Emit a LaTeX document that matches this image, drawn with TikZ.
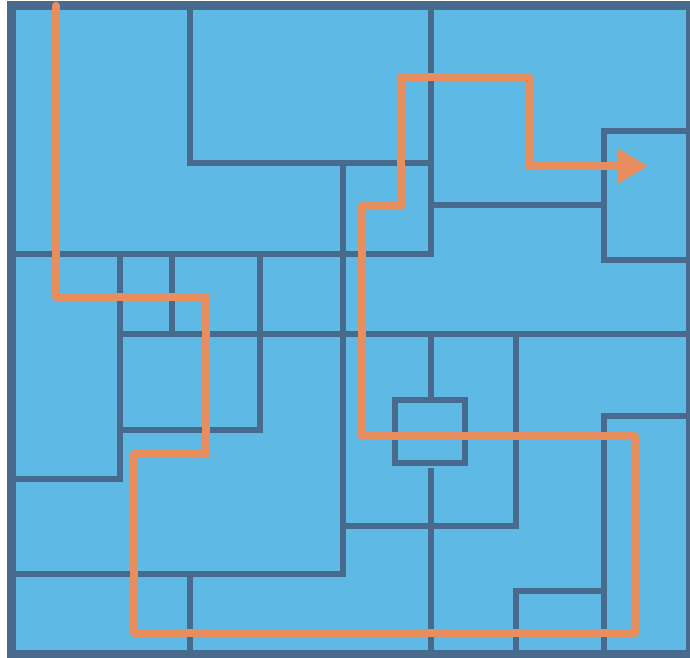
\documentclass[tikz,border=0pt]{standalone}
\usetikzlibrary{arrows.meta}
\definecolor{roomblue}{HTML}{5EB9E5}
\definecolor{wallblue}{HTML}{476A8D}
\definecolor{pathorange}{HTML}{E88D5E}
\tikzset{
  wall/.style={draw=wallblue, line width=6.5pt, line cap=rect},
  frame/.style={draw=wallblue, fill=roomblue, line width=9pt},
  route/.style={draw=pathorange, line width=8.5pt, line cap=round, line join=round,
    -{Triangle[length=31pt,width=34pt]}}
}
\begin{document}
\begin{tikzpicture}[x=1pt,y=-1pt]
\useasboundingbox (0,0) rectangle (690,657);
% outer frame
\draw[frame] (11,5.5) rectangle (690.5,654.5);
% walls
\draw[wall] (190,6) -- (190,163) -- (431,163);
\draw[wall] (431,6) -- (431,254);
\draw[wall] (11,254) -- (431,254);
\draw[wall] (343,163) -- (343,526) -- (516,526) -- (516,334);
\draw[wall] (343,526) -- (343,574) -- (11,574);
\draw[wall] (190,574) -- (190,653);
\draw[wall] (120,254) -- (120,479) -- (11,479);
\draw[wall] (172,254) -- (172,334);
\draw[wall] (120,334) -- (687,334);
\draw[wall] (120,430) -- (260,430) -- (260,254);
\draw[wall] (395,400) rectangle (465,463);
\draw[wall] (431,334) -- (431,400);
\draw[wall] (431,471.5) -- (431,653);
\draw[wall] (604,653) -- (604,416) -- (687,416);
\draw[wall] (516,653) -- (516,591) -- (604,591);
\draw[wall] (431,205) -- (604,205);
\draw[wall] (687,131) -- (604,131) -- (604,260) -- (687,260);
% route
\coordinate (start) at (56,6);
\coordinate (goal) at (648,166);
\draw[route] (start) -- (56,297) -- (206,297) -- (206,454) -- (134,454) -- (134,633)
  -- (635,633) -- (635,436) -- (362,436) -- (362,206) -- (401,206) -- (401,77)
  -- (529,77) -- (529,166) -- (goal);
\end{tikzpicture}
\end{document}
